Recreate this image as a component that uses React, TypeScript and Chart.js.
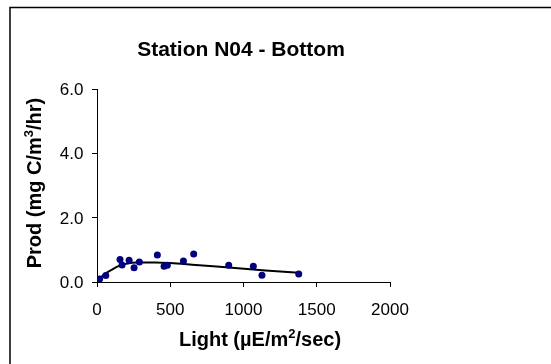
import React, { useEffect, useRef } from "react";
import { Chart, registerables } from "chart.js";

Chart.register(...registerables);

const chartTitle = "Station N04 - Bottom";
// [text, isSuperscript]
const xTitleParts: [string, boolean][] = [["Light (\u00b5E/m", false], ["2", true], ["/sec)", false]];
const yTitleParts: [string, boolean][] = [["Prod (mg C/m", false], ["3", true], ["/hr)", false]];

const obsLight = [18, 60, 157, 171, 219, 253, 289, 412, 458, 480, 590, 660, 899, 1067, 1126, 1377];
const obsProd = [0.09, 0.2, 0.7, 0.53, 0.68, 0.44, 0.62, 0.84, 0.49, 0.52, 0.65, 0.87, 0.52, 0.49, 0.21, 0.25];

const fitLight = [0, 50, 100, 150, 200, 275, 400, 500, 650, 900, 1150, 1377];
const fitProd = [0.03, 0.24, 0.38, 0.5, 0.57, 0.61, 0.61, 0.59, 0.54, 0.45, 0.36, 0.29];

const xTicks = [0, 500, 1000, 1500, 2000];
const yTicks = [0, 2, 4, 6];

const FAMILY = "'Liberation Sans', Arial, sans-serif";

function richText(
  ctx: CanvasRenderingContext2D,
  parts: [string, boolean][],
  cx: number,
  baseY: number,
  size: number,
  rotate: boolean
) {
  ctx.save();
  ctx.fillStyle = "#000";
  ctx.textBaseline = "alphabetic";
  ctx.textAlign = "left";
  const supSize = Math.round(size * 0.65);
  const widths = parts.map(([t, sup]) => {
    ctx.font = `bold ${sup ? supSize : size}px ${FAMILY}`;
    return ctx.measureText(t).width;
  });
  const total = widths.reduce((a, b) => a + b, 0);
  ctx.translate(cx, baseY);
  if (rotate) ctx.rotate(-Math.PI / 2);
  let x = -total / 2;
  parts.forEach(([t, sup], i) => {
    ctx.font = `bold ${sup ? supSize : size}px ${FAMILY}`;
    ctx.fillText(t, x, sup ? -size * 0.38 : 0);
    x += widths[i];
  });
  ctx.restore();
}

export default function App() {
  const ref = useRef<HTMLCanvasElement | null>(null);
  useEffect(() => {
    const canvas = ref.current!;
    const decor = {
      id: "decor",
      afterDraw(chart: any) {
        const ctx = chart.ctx as CanvasRenderingContext2D;
        ctx.save();
        ctx.strokeStyle = "#000";
        ctx.lineWidth = 1.5;
        ctx.strokeRect(10, 7.5, 700, 500);
        ctx.fillStyle = "#000";
        ctx.textBaseline = "alphabetic";
        ctx.textAlign = "center";
        ctx.font = `bold 21px ${FAMILY}`;
        ctx.fillText(chartTitle, 241, 56);
        ctx.font = `17px ${FAMILY}`;
        const xs = chart.scales.x;
        const ys = chart.scales.y;
        xTicks.forEach((v) => {
          ctx.fillText(String(v), xs.getPixelForValue(v), 315);
        });
        ctx.textAlign = "right";
        yTicks.forEach((v) => {
          ctx.fillText(v.toFixed(1), 83.5, ys.getPixelForValue(v) + 6);
        });
        ctx.restore();
        richText(ctx, xTitleParts, 260, 346, 20, false);
        richText(ctx, yTitleParts, 41, 183, 20, true);
      },
    };
    const chart = new Chart(canvas, {
      type: "scatter",
      data: {
        datasets: [
          {
            label: "fit",
            data: fitLight.map((x, i) => ({ x, y: fitProd[i] })),
            showLine: true,
            borderColor: "#000",
            borderWidth: 2,
            pointRadius: 0,
            cubicInterpolationMode: "monotone",
            order: 2,
          } as any,
          {
            label: "obs",
            data: obsLight.map((x, i) => ({ x, y: obsProd[i] })),
            backgroundColor: "#000080",
            borderColor: "#000080",
            pointRadius: 3.5,
            borderWidth: 0,
            order: 1,
          },
        ],
      },
      plugins: [decor],
      options: {
        animation: false,
        responsive: false,
        layout: { padding: { left: 0, top: 89, right: 161, bottom: 0 } },
        plugins: { legend: { display: false }, tooltip: { enabled: false } },
        scales: {
          x: {
            type: "linear",
            min: 0,
            max: 2000,
            afterBuildTicks: (s: any) => {
              s.ticks = xTicks.map((v) => ({ value: v }));
            },
            afterFit: (s: any) => {
              s.height = 82;
            },
            grid: { drawOnChartArea: false, drawTicks: true, tickLength: 5, color: "#000" },
            border: { color: "#000", width: 1 },
            ticks: { display: false },
          },
          y: {
            type: "linear",
            min: 0,
            max: 6,
            afterBuildTicks: (s: any) => {
              s.ticks = yTicks.map((v) => ({ value: v }));
            },
            afterFit: (s: any) => {
              s.width = 97;
            },
            grid: { drawOnChartArea: false, drawTicks: true, tickLength: 5, color: "#000" },
            border: { color: "#000", width: 1 },
            ticks: { display: false },
          },
        },
      },
    });
    return () => chart.destroy();
  }, []);
  return (
    <div style={{ position: "fixed", left: 0, top: 0, width: 551, height: 364, overflow: "hidden", background: "#fff" }}>
      <canvas ref={ref} width={551} height={364} style={{ display: "block" }} />
    </div>
  );
}
